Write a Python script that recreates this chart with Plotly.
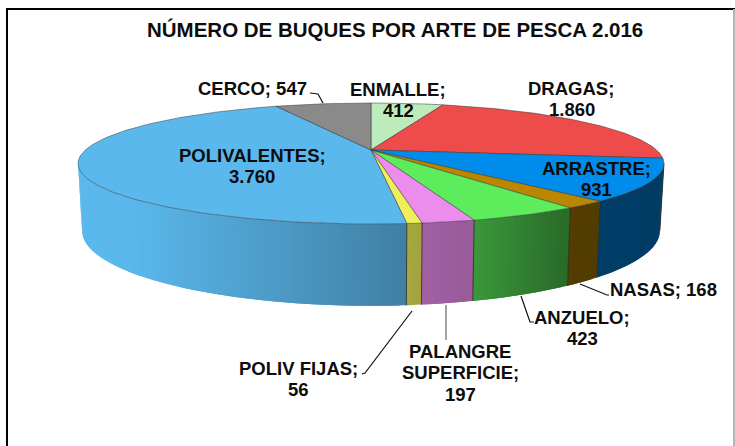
import numpy as np
import plotly.graph_objects as go

# ---- data, clockwise from 12 o'clock ----
categories = ["ENMALLE", "DRAGAS", "ARRASTRE", "NASAS", "ANZUELO",
              "PALANGRE SUPERFICIE", "POLIV FIJAS", "POLIVALENTES", "CERCO"]
values = [412, 1860, 931, 168, 423, 197, 56, 3760, 547]
colors = ["#BCEBBC", "#EE4B4B", "#008CEB", "#B98800", "#5CEC5C",
          "#EC8CEC", "#EFEF5C", "#5BB8EC", "#8A8A8A"]
title = "NÚMERO DE BUQUES POR ARTE DE PESCA 2.016"

# ---- 3D projection of the pie (page pixels) ----
CX, CY = 371.0, 150.0
A, B, K = 285.6, 57.5, 0.223
BOTTOM_Y0, BOTTOM_SX, BOTTOM_SY = 214.0, 0.986, 1.24
SHADE_X = [130, 405, 473, 570, 664]
SHADE_F = [1.0, 0.70, 0.65, 0.45, 0.43]
VISIBLE_FROM, VISIBLE_TO = 103.0, 257.0


def top(th):
    th = np.radians(th)
    d = 1 + K * np.cos(th)
    return CX + A * np.sin(th) / d, CY - B * np.cos(th) / d


def bottom(th):
    th = np.radians(th)
    d = 1 + K * np.cos(th)
    return CX + BOTTOM_SX * A * np.sin(th) / d, BOTTOM_Y0 - BOTTOM_SY * B * np.cos(th) / d


def rgb(h, f=1.0):
    return "rgb(%d,%d,%d)" % tuple(int(int(h[i:i + 2], 16) * f) for i in (1, 3, 5))


def poly(x, y, fill, line=None, width=0.0):
    return go.Scatter(x=list(x), y=list(y), mode="lines", fill="toself", fillcolor=fill,
                      line=dict(color=line or fill, width=width), hoverinfo="skip", showlegend=False)


fig = go.Figure()
edges = np.concatenate([[0], np.cumsum(values)]) / sum(values) * 360

# side wall, as thin shaded strips that overlap the next one so no seam shows
for i, c in enumerate(colors):
    a0, a1 = max(edges[i], VISIBLE_FROM), min(edges[i + 1], VISIBLE_TO)
    if a1 <= a0:
        continue
    n = max(2, int((a1 - a0) / 1.0))
    steps = np.linspace(a0, a1, n + 1)
    ds = steps[1] - steps[0]
    for s0 in steps[:-1]:
        s1 = min(s0 + 2 * ds, a1)
        arc = np.linspace(s0, s1, 4)
        tx, ty = top(arc)
        bx, by = bottom(arc)
        col = rgb(c, float(np.interp(top(s0 + ds / 2)[0], SHADE_X, SHADE_F)))
        fig.add_trace(poly(np.r_[tx, bx[::-1], tx[0]], np.r_[ty, by[::-1], ty[0]], col))
    # dark seam where two slices meet
    bx, by = bottom(a0)
    tx, ty = top(a0)
    fig.add_trace(go.Scatter(x=[tx, bx], y=[ty, by], mode="lines", line=dict(color="#2a2a1a", width=0.8),
                             hoverinfo="skip", showlegend=False))

# top face
for i, c in enumerate(colors):
    th = np.linspace(edges[i], edges[i + 1], max(3, int(edges[i + 1] - edges[i]) + 2))
    x, y = top(th)
    fig.add_trace(poly(np.r_[CX, x, CX], np.r_[CY, y, CY], c, line="#333333", width=0.5))

# ---- labels ----
def fmt(v):
    return f"{v:,}".replace(",", ".")


LABEL_LAYOUT = [  # one (x, y, text) per line, {} takes the value
    [(398, 89, "ENMALLE;"), (398, 110, "{}")],
    [(571, 88, "DRAGAS;"), (572, 109, "{}")],
    [(596, 168, "ARRASTRE;"), (596, 189, "{}")],
    [(663.5, 289, "NASAS; {}")],
    [(582, 317, "ANZUELO;"), (582, 338, "{}")],
    [(460, 351, "PALANGRE"), (460, 372, "SUPERFICIE;"), (460, 394, "{}")],
    [(298, 368, "POLIV FIJAS;"), (298, 389, "{}")],
    [(252, 155, "POLIVALENTES;"), (252, 176, "{}")],
    [(252, 88, "CERCO; {}")],
]
for lines, v in zip(LABEL_LAYOUT, values):
    for x, y, t in lines:
        fig.add_annotation(x=x, y=y, text="<b>" + t.format(fmt(v)) + "</b>", showarrow=False,
                           font=dict(family="Liberation Sans", size=18.5, color="#0d0d0d"),
                           xanchor="center", yanchor="middle", align="center")

fig.add_annotation(x=395, y=29, text="<b>" + title + "</b>", showarrow=False,
                   font=dict(family="Liberation Sans", size=20.5, color="#0d0d0d"),
                   xanchor="center", yanchor="middle")

# ---- leader lines ----
LEADERS = [
    ([310, 318, 323], [93, 94, 103], "#111111"),
    ([362, 365, 412], [374, 373, 311], "#111111"),
    ([446, 446], [305, 340], "#666666"),
    ([521, 530, 534], [296, 322, 322], "#111111"),
    ([580, 607, 609], [284, 295, 295], "#111111"),
]
for lx, ly, col in LEADERS:
    fig.add_trace(go.Scatter(x=lx, y=ly, mode="lines", line=dict(color=col, width=1.2),
                             hoverinfo="skip", showlegend=False))

# ---- frame ----
fig.add_shape(type="line", x0=7, x1=7, y0=8, y1=446, line=dict(color="#000000", width=2))
fig.add_shape(type="line", x0=6, x1=735, y0=9, y1=9, line=dict(color="#000000", width=2))
fig.add_shape(type="line", x0=734, x1=734, y0=9, y1=446, line=dict(color="#b5b5b5", width=2))

fig.update_layout(
    width=735, height=446, autosize=False, margin=dict(l=0, r=0, t=0, b=0),
    paper_bgcolor="white", plot_bgcolor="white", showlegend=False,
    xaxis=dict(range=[0, 735], visible=False, fixedrange=True),
    yaxis=dict(range=[446, 0], visible=False, fixedrange=True),
)
fig.write_html("out.html", config={"displayModeBar": False},
               post_script="document.body.style.margin='0';document.body.style.overflow='hidden';")
